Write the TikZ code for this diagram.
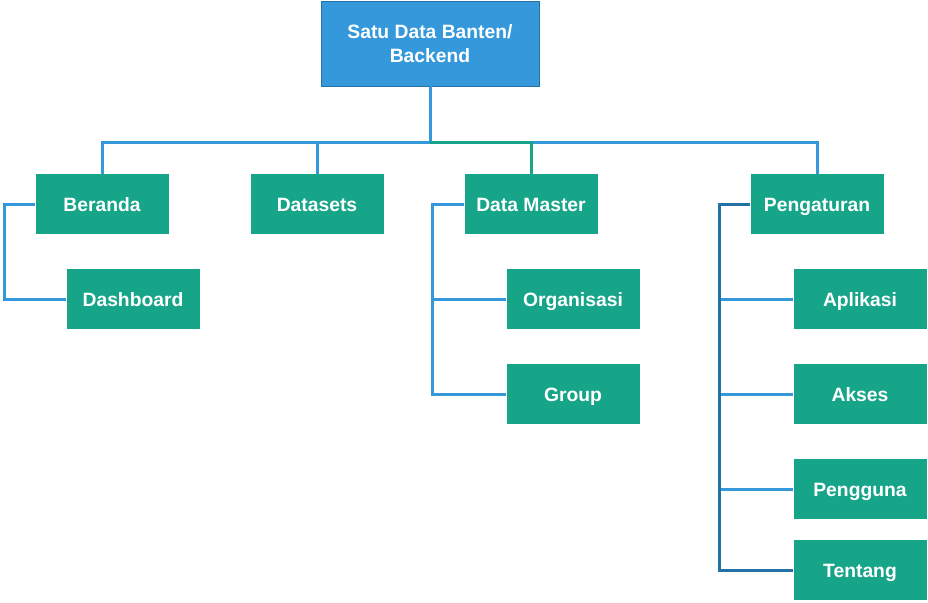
\documentclass[tikz,border=0pt]{standalone}
\usepackage{fontspec}
\setmainfont{Liberation Sans}
\usepackage{tikz}
\usetikzlibrary{positioning,calc}

\definecolor{rootblue}{RGB}{52,152,219}
\definecolor{rootedge}{RGB}{36,113,163}
\definecolor{boxgreen}{RGB}{23,165,137}
\definecolor{linkblue}{RGB}{52,152,219}
\definecolor{darkblue}{RGB}{36,113,163}

\begin{document}
\begin{tikzpicture}[x=1pt,y=-1pt]
            \tikzset{
              box/.style={text=white, font=\bfseries\fontsize{19.3}{24}\selectfont,
                inner sep=0pt, align=center},
              menu/.style={box, fill=boxgreen, minimum width=133pt, minimum height=60pt,
                text height=18pt, text depth=4pt},
              top/.style={box, fill=rootblue, draw=rootedge, line width=0.8pt,
                minimum width=218pt, minimum height=85pt},
              conn/.style={draw=linkblue, line width=3pt},
              connsel/.style={conn, draw=boxgreen},
              conndark/.style={conn, draw=darkblue},
            }
            \useasboundingbox (0,0) rectangle (928,602);
            \node[top] (root) at (430,43.5) {Satu Data Banten/\\Backend};
            \node[menu] (beranda) at (102,204) {Beranda};
            \node[menu] (dashboard) at (133,299) {Dashboard};
            \node[menu] (datasets) at (317,204) {Datasets};
            \node[menu] (master) at (531,204) {Data Master};
            \node[menu] (organisasi) at (573,299) {Organisasi};
            \node[menu] (group) at (573,394) {Group};
            \node[menu] (pengaturan) at (817,204) {Pengaturan};
            \node[menu] (aplikasi) at (860,299) {Aplikasi};
            \node[menu] (akses) at (860,394) {Akses};
            \node[menu] (pengguna) at (860,489) {Pengguna};
            \node[menu] (tentang) at (860,570) {Tentang};
            \coordinate (bus) at (430,142);
            % top level
            \draw[conn] (root.south) -- (bus) -| (beranda.north);
            \draw[conn] (bus) -| (datasets.north);
            \draw[conn] (bus) -| (pengaturan.north);
            \draw[connsel] (bus) -| (master.north);
            % sub menus
            \draw[conn] (beranda.west) -- ++(-31,0) |- (dashboard.west);
            \draw[conn] (master.west) -- ++(-32,0) |- (organisasi.west);
            \draw[conn] (master.west) -- ++(-32,0) |- (group.west);
            \draw[conn] (pengaturan.west) -- ++(-31,0) |- (aplikasi.west);
            \draw[conn] (pengaturan.west) -- ++(-31,0) |- (akses.west);
            \draw[conn] (pengaturan.west) -- ++(-31,0) |- (pengguna.west);
            \draw[conndark] (pengaturan.west) -- ++(-31,0) |- (tentang.west);
\end{tikzpicture}
\end{document}
